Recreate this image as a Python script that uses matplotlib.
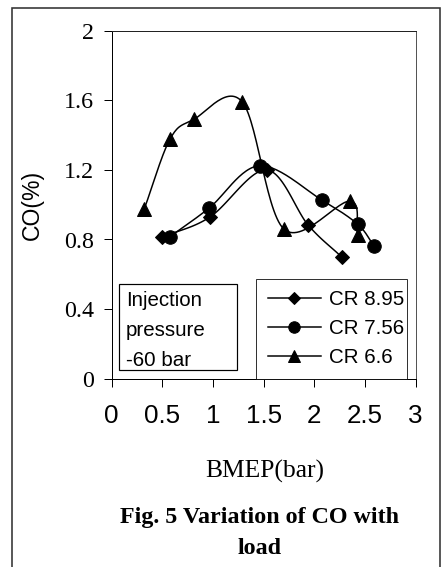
import numpy as np
import matplotlib
matplotlib.use("Agg")
import matplotlib.pyplot as plt
from matplotlib.patches import Rectangle
from matplotlib.lines import Line2D

# BMEP (bar) and CO (%) for each compression ratio
bmep_cr895 = [0.50, 0.97, 1.53, 1.94, 2.27]
co_cr895 = [0.814, 0.929, 1.20, 0.883, 0.70]

bmep_cr756 = [0.575, 0.963, 1.46, 2.08, 2.43, 2.59]
co_cr756 = [0.816, 0.981, 1.224, 1.025, 0.887, 0.763]

bmep_cr66 = [0.32, 0.575, 0.81, 1.29, 1.70, 2.35, 2.43]
co_cr66 = [0.973, 1.376, 1.49, 1.59, 0.86, 1.02, 0.824]

series_labels = ["CR 8.95", "CR 7.56", "CR 6.6"]
x_ticks = [0, 0.5, 1, 1.5, 2, 2.5, 3]
x_tick_labels = ["0", "0.5", "1", "1.5", "2", "2.5", "3"]
y_ticks = [0, 0.4, 0.8, 1.2, 1.6, 2]
y_tick_labels = ["0", "0.4", "0.8", "1.2", "1.6", "2"]
note_lines = ["Injection", "pressure", "-60 bar"]


def smooth(x, y, n=30):
    """Catmull-Rom curve through the points (spreadsheet-style smoothed line)."""
    x = np.asarray(x, float)
    y = np.asarray(y, float)
    px = np.concatenate([[2 * x[0] - x[1]], x, [2 * x[-1] - x[-2]]])
    py = np.concatenate([[2 * y[0] - y[1]], y, [2 * y[-1] - y[-2]]])
    ox, oy = [], []
    t = np.linspace(0, 1, n)
    mt = 1 - t
    for i in range(1, len(px) - 2):
        p0, p1, p2, p3 = px[i - 1], px[i], px[i + 1], px[i + 2]
        q0, q1, q2, q3 = py[i - 1], py[i], py[i + 1], py[i + 2]
        bx = [p1, p1 + (p2 - p0) / 6, p2 - (p3 - p1) / 6, p2]
        by = [q1, q1 + (q2 - q0) / 6, q2 - (q3 - q1) / 6, q2]
        ox.append(mt**3 * bx[0] + 3 * mt**2 * t * bx[1] + 3 * mt * t**2 * bx[2] + t**3 * bx[3])
        oy.append(mt**3 * by[0] + 3 * mt**2 * t * by[1] + 3 * mt * t**2 * by[2] + t**3 * by[3])
    return np.concatenate(ox), np.concatenate(oy)


W, H = 442, 567
fig = plt.figure(figsize=(W / 72, H / 72), dpi=72)
fig.patch.set_facecolor("white")

# outer frame around the figure panel
fig.add_artist(Rectangle((12 / W, -0.01), (439.5 - 12) / W, 1.01 - 8.3 / H,
                         transform=fig.transFigure, fill=False,
                         edgecolor="#333333", linewidth=1.6))

ax_l, ax_r, ax_t, ax_b = 111.7, 415.5, 30.7, 378.7
ax = fig.add_axes([ax_l / W, 1 - ax_b / H, (ax_r - ax_l) / W, (ax_b - ax_t) / H])
ax.set_xlim(0, 3)
ax.set_ylim(0, 2)

styles = [
    (bmep_cr895, co_cr895, "D", 10),
    (bmep_cr756, co_cr756, "o", 13.5),
    (bmep_cr66, co_cr66, "^", 13.5),
]
handles = []
for (xs, ys, mk, ms), lab in zip(styles, series_labels):
    sx, sy = smooth(xs, ys)
    ax.plot(sx, sy, color="black", linewidth=1.5, zorder=2)
    ax.plot(xs, ys, linestyle="none", marker=mk, markersize=ms,
            color="black", zorder=3)
    handles.append(Line2D([], [], color="black", linewidth=1.5, marker=mk,
                          markersize=ms * 0.85, label=lab))

ax.set_xticks(x_ticks)
ax.set_xticklabels(x_tick_labels, family="Liberation Sans", fontsize=26)
ax.set_yticks(y_ticks)
ax.set_yticklabels(y_tick_labels, family="Liberation Serif", fontsize=24)
ax.tick_params(axis="x", direction="out", length=8, width=1, pad=17)
ax.tick_params(axis="y", direction="out", length=8, width=1, pad=10)
for sp in ax.spines.values():
    sp.set_linewidth(1.0)
ax.spines["right"].set_color("#555555")
ax.spines["top"].set_color("#222222")

leg = ax.legend(handles=handles, loc="lower left",
                bbox_to_anchor=(0.4765, 0.0, 0.4945, 0.2856), mode="expand",
                frameon=True, fancybox=False, edgecolor="black",
                prop={"family": "Liberation Sans", "size": 20.5},
                handlelength=2.6, handletextpad=0.4, labelspacing=0.5,
                borderpad=0.55, borderaxespad=0)
leg.get_frame().set_linewidth(1.0)

# note box
ax.add_patch(Rectangle((0.025, 0.025), 0.3877, 0.248, transform=ax.transAxes,
                       fill=False, edgecolor="black", linewidth=1.2, zorder=4))
for i, line in enumerate(note_lines):
    ax.text((126 - ax_l) / (ax_r - ax_l), (ax_b - (300 + 30 * i)) / (ax_b - ax_t),
            line, transform=ax.transAxes, family="Liberation Sans",
            fontsize=20.5, va="center", ha="left", zorder=5)

fig.text(32 / W, 1 - 205 / H, "CO(%)", rotation=90, family="Liberation Sans",
         fontsize=23, ha="center", va="center")
fig.text(265 / W, 1 - 471 / H, "BMEP(bar)", family="Liberation Serif",
         fontsize=25.5, ha="center", va="center")
fig.text(260 / W, 1 - 518 / H, "Fig. 5 Variation of CO with",
         family="Liberation Serif", fontweight="bold", fontsize=24,
         ha="center", va="center")
fig.text(260 / W, 1 - 548 / H, "load", family="Liberation Serif",
         fontweight="bold", fontsize=24, ha="center", va="center")

fig.savefig("out.png", dpi=72)
